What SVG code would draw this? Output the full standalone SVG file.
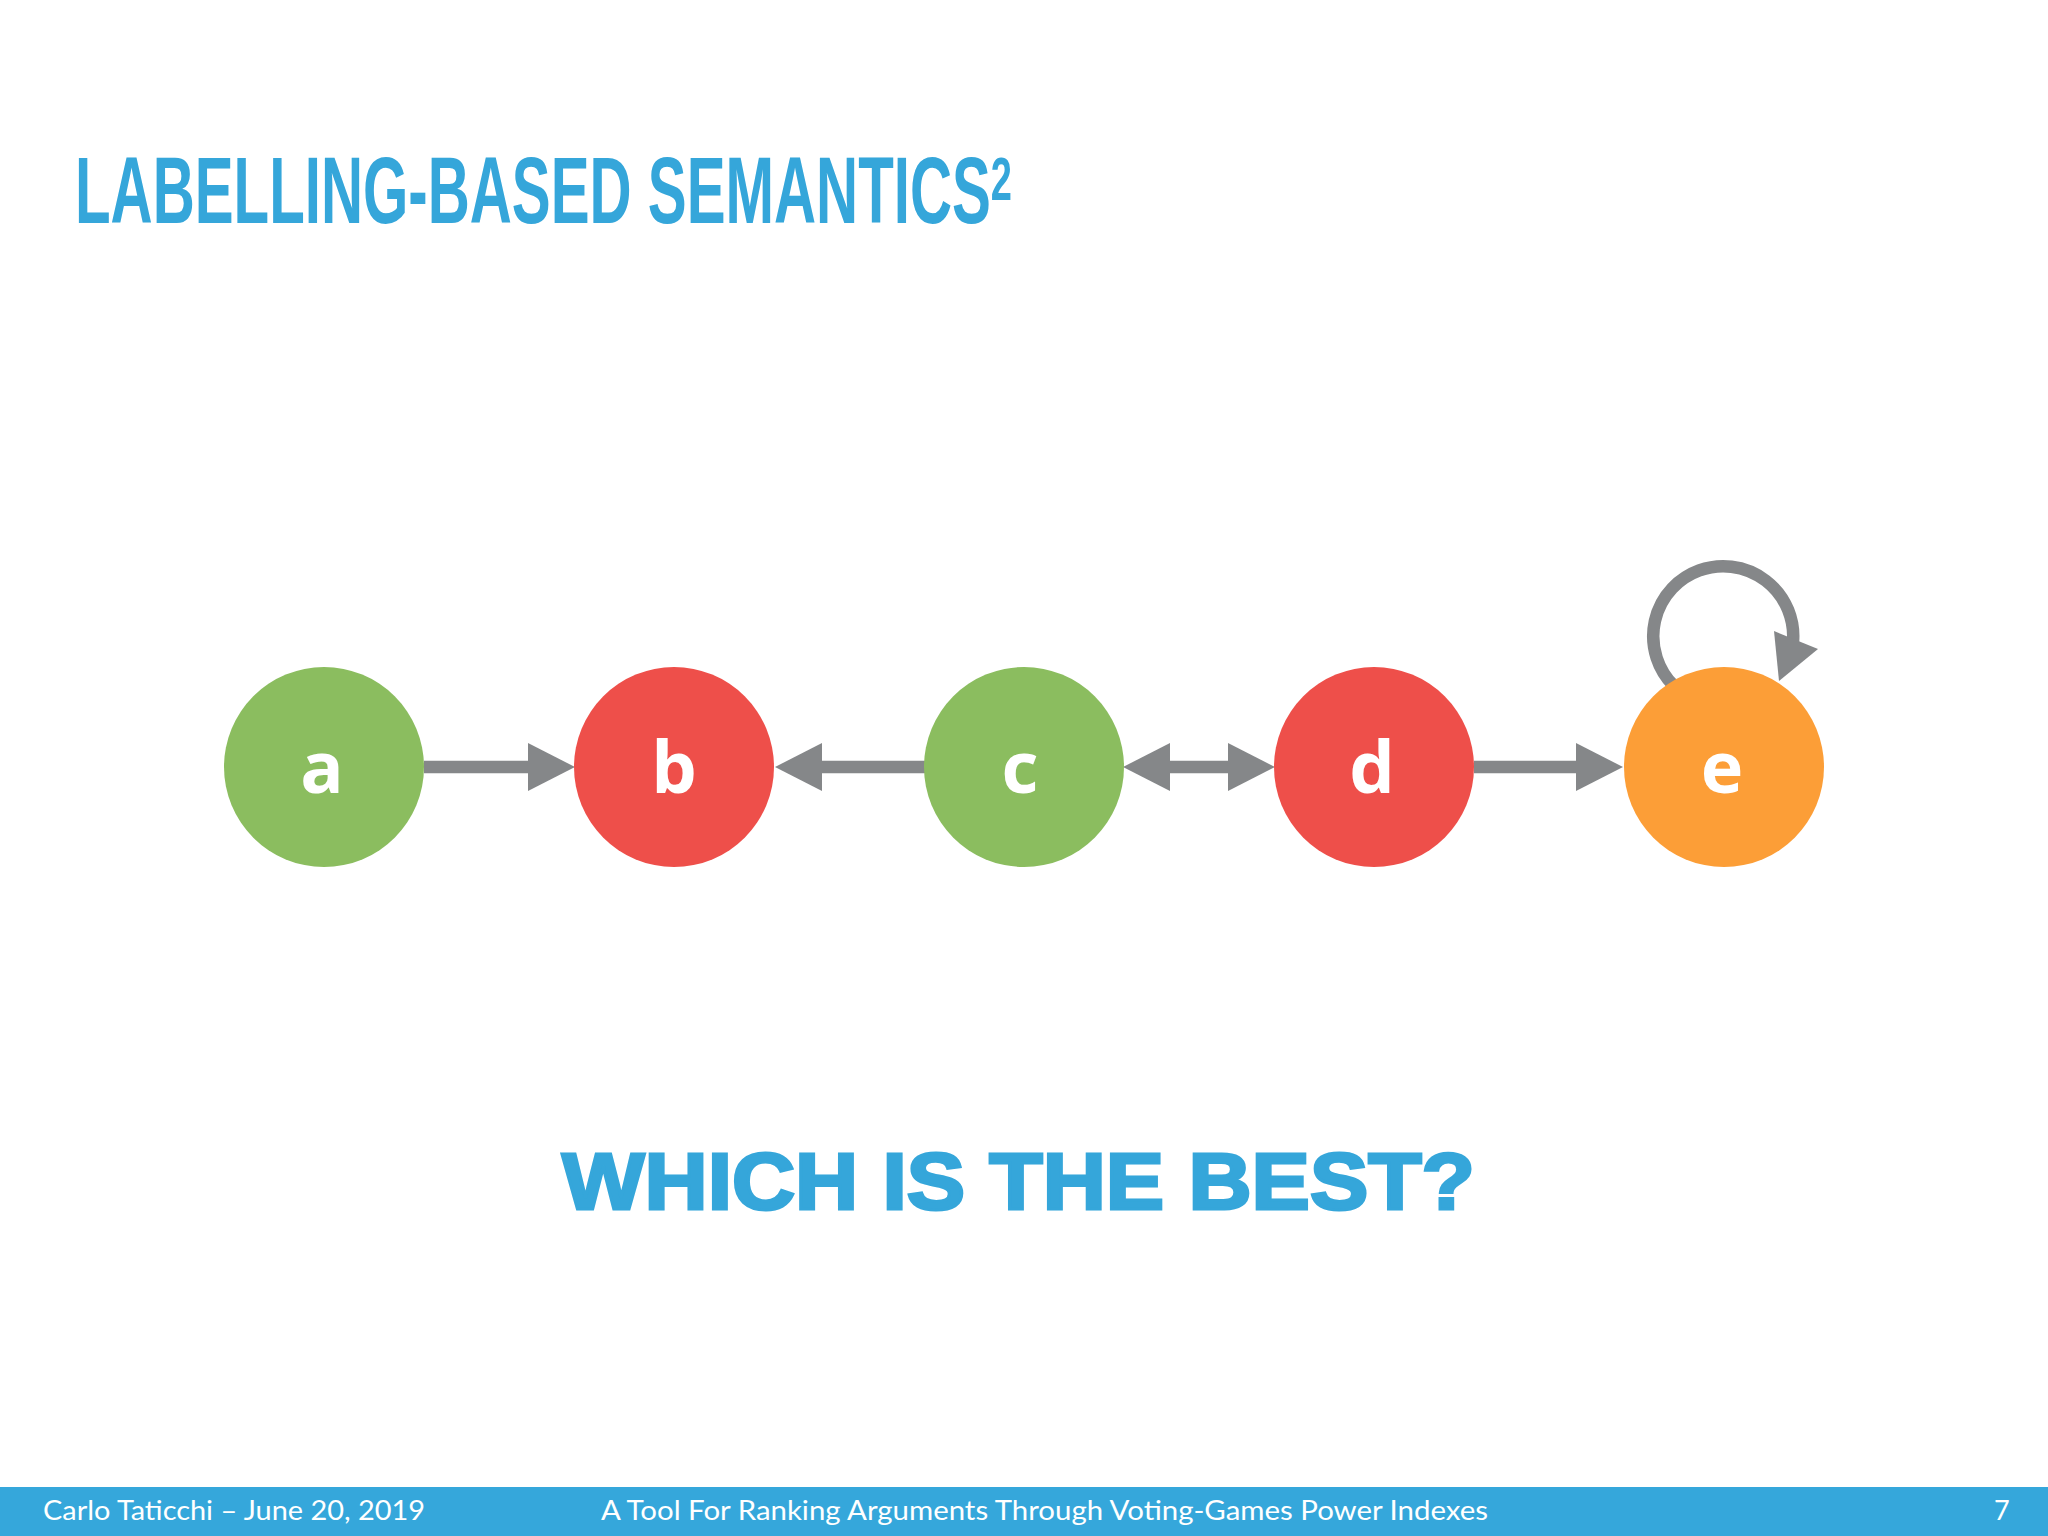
<svg xmlns="http://www.w3.org/2000/svg" width="2048" height="1536" viewBox="0 0 2048 1536">
<style>
.title{font-family:"Liberation Sans",Arial,sans-serif;font-weight:bold;fill:#35A6DA}
.q{font-family:"Liberation Sans",Arial,sans-serif;font-weight:bold;fill:#35A6DA;stroke:#35A6DA;stroke-width:3}
.lbl{font-family:"Open Sans","Noto Sans",sans-serif;font-weight:bold;font-size:72px;fill:#FFFFFF;text-anchor:middle}
.green{fill:#8BBD5F}
.red{fill:#EE4F4A}
.orange{fill:#FC9E37}
.edge{stroke:#858789;stroke-width:12.5;fill:none}
.foot{font-family:"Lato","Open Sans",sans-serif;font-size:27px;fill:#FFFFFF}
</style>
<defs>
<marker id="ah" markerUnits="userSpaceOnUse" markerWidth="47" markerHeight="48" refX="0" refY="24" orient="auto-start-reverse" viewBox="0 0 47 48">
<path d="M0 0 L47 24 L0 48 Z" fill="#858789"/>
</marker>
</defs>
<rect x="0" y="0" width="2048" height="1536" fill="#FFFFFF"/>
<text class="title" x="75" y="223" font-size="95" textLength="937" lengthAdjust="spacingAndGlyphs">LABELLING-BASED SEMANTICS<tspan font-size="62" dy="-23">2</tspan></text>
<g id="connectors">
<line class="edge" x1="424" y1="767" x2="528" y2="767" marker-end="url(#ah)"/>
<line class="edge" x1="925" y1="767" x2="822" y2="767" marker-end="url(#ah)"/>
<line class="edge" x1="1170" y1="767" x2="1228" y2="767" marker-start="url(#ah)" marker-end="url(#ah)"/>
<line class="edge" x1="1474" y1="767" x2="1576" y2="767" marker-end="url(#ah)"/>
<path class="edge" d="M1673.5 685.5 A70 70 0 1 1 1793 642"/>
<polygon points="1774,631 1818,649 1779,681" fill="#858789"/>
</g>
<g id="node-a"><circle class="green" cx="324" cy="767" r="100"/><text class="lbl" x="322" y="793">a</text></g>
<g id="node-b"><circle class="red" cx="674" cy="767" r="100"/><text class="lbl" x="674" y="793">b</text></g>
<g id="node-c"><circle class="green" cx="1024" cy="767" r="100"/><text class="lbl" x="1020" y="793">c</text></g>
<g id="node-d"><circle class="red" cx="1374" cy="767" r="100"/><text class="lbl" x="1372" y="793">d</text></g>
<g id="node-e"><circle class="orange" cx="1724" cy="767" r="100"/><text class="lbl" x="1722" y="793">e</text></g>
<text class="q" x="562" y="1209" font-size="79" textLength="913" lengthAdjust="spacingAndGlyphs">WHICH IS THE BEST?</text>
<rect x="0" y="1487" width="2048" height="49" fill="#35A7DB"/>
<text class="foot" x="43" y="1520" textLength="382" lengthAdjust="spacingAndGlyphs">Carlo Taticchi – June 20, 2019</text>
<text class="foot" x="601" y="1520" textLength="887" lengthAdjust="spacingAndGlyphs">A Tool For Ranking Arguments Through Voting-Games Power Indexes</text>
<text class="foot" x="1994" y="1520">7</text>
</svg>
